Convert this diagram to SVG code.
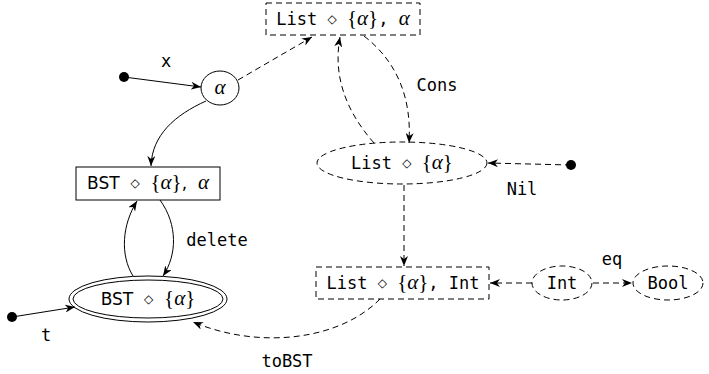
<svg xmlns="http://www.w3.org/2000/svg" width="709" height="374" viewBox="0 0 709 374">
  <style>
    .node { fill: none; stroke: #000; stroke-width: 1; }
    .dash { stroke-dasharray: 6 4; }
    .edge { fill: none; stroke: #000; stroke-width: 1; }
    .lbl { font-family: "DejaVu Sans Mono", monospace; font-size: 17px; fill: #000; }
    .mono { font-family: "DejaVu Sans Mono", monospace; }
    .sans { font-family: "DejaVu Sans", sans-serif; }
    .dia { font-family: "DejaVu Sans", sans-serif; font-size: 12px; }
    .math { font-family: "Liberation Serif", "DejaVu Serif", serif; font-size: 21px; }
    .it { font-style: italic; }
    text { font-size: 17px; fill: #000; white-space: pre; }
  </style>
  <defs>
    <marker id="arrow" viewBox="0 0 10 8" refX="10" refY="4" markerWidth="10" markerHeight="8" markerUnits="userSpaceOnUse" orient="auto">
      <path d="M0,0 L10,4 L0,8 L3,4 z" fill="#000"/>
    </marker>
  </defs>

  <g id="edges">
    <circle cx="124" cy="77" r="5" fill="#000"/>
    <line class="edge" x1="124" y1="77" x2="201" y2="87" marker-end="url(#arrow)"/>
    <line class="edge dash" x1="238" y1="80" x2="312" y2="37" marker-end="url(#arrow)"/>
    <path class="edge dash" d="M364,36 C395,60 412,95 409,143" marker-end="url(#arrow)"/>
    <path class="edge dash" d="M374,143 C345,110 333,75 340,37" marker-end="url(#arrow)"/>
    <circle cx="571" cy="165" r="5" fill="#000"/>
    <line class="edge dash" x1="571" y1="165" x2="488" y2="163" marker-end="url(#arrow)"/>
    <line class="edge dash" x1="404" y1="185" x2="404" y2="266" marker-end="url(#arrow)"/>
    <line class="edge dash" x1="532" y1="283" x2="490" y2="283" marker-end="url(#arrow)"/>
    <line class="edge dash" x1="593" y1="283" x2="632" y2="283" marker-end="url(#arrow)"/>
    <path class="edge dash" d="M380,299 C340,340 260,350 193,322" marker-end="url(#arrow)"/>
    <path class="edge" d="M206,101 C175,115 152,135 151,166" marker-end="url(#arrow)"/>
    <path class="edge" d="M133,276 C120,255 122,225 137,201" marker-end="url(#arrow)"/>
    <path class="edge" d="M160,200 C178,225 177,255 163,276" marker-end="url(#arrow)"/>
    <circle cx="12" cy="317" r="5" fill="#000"/>
    <line class="edge" x1="12" y1="317" x2="75" y2="307" marker-end="url(#arrow)"/>

    <text class="lbl" x="166" y="67" text-anchor="middle">x</text>
    <text class="lbl" x="437" y="91" text-anchor="middle">Cons</text>
    <text class="lbl" x="522" y="195" text-anchor="middle">Nil</text>
    <text class="lbl" x="612" y="265" text-anchor="middle">eq</text>
    <text class="lbl" x="217" y="246" text-anchor="middle">delete</text>
    <text class="lbl" x="46" y="341" text-anchor="middle">t</text>
    <text class="lbl" x="287" y="367" text-anchor="middle">toBST</text>
  </g>

  <g id="n-alpha">
    <ellipse class="node" cx="220" cy="88" rx="19" ry="17"/>
    <text x="220" y="94" text-anchor="middle" class="math it">α</text>
  </g>

  <g id="n-list-alpha-pair">
    <rect class="node dash" x="266" y="3" width="154" height="32"/>
    <text x="343" y="25" text-anchor="middle"><tspan class="mono">List </tspan><tspan class="dia" dy="-2">◇</tspan><tspan class="mono" dy="2"> </tspan><tspan class="math">{</tspan><tspan class="math it">α</tspan><tspan class="math">}</tspan><tspan class="mono">, </tspan><tspan class="math it">α</tspan></text>
  </g>

  <g id="n-list">
    <ellipse class="node dash" cx="402" cy="163" rx="85" ry="21"/>
    <text x="402" y="169" text-anchor="middle"><tspan class="mono">List </tspan><tspan class="dia" dy="-2">◇</tspan><tspan class="mono" dy="2"> </tspan><tspan class="math">{</tspan><tspan class="math it">α</tspan><tspan class="math">}</tspan></text>
  </g>

  <g id="n-list-int">
    <rect class="node dash" x="316" y="267" width="173" height="32"/>
    <text x="403" y="289" text-anchor="middle"><tspan class="mono">List </tspan><tspan class="dia" dy="-2">◇</tspan><tspan class="mono" dy="2"> </tspan><tspan class="math">{</tspan><tspan class="math it">α</tspan><tspan class="math">}</tspan><tspan class="mono">, Int</tspan></text>
  </g>

  <g id="n-int">
    <ellipse class="node dash" cx="562" cy="283" rx="30" ry="17"/>
    <text x="562" y="289" text-anchor="middle" class="mono">Int</text>
  </g>

  <g id="n-bool">
    <ellipse class="node dash" cx="668" cy="283" rx="35" ry="17"/>
    <text x="668" y="289" text-anchor="middle" class="mono">Bool</text>
  </g>

  <g id="n-bst-alpha-pair">
    <rect class="node" x="76" y="167" width="144" height="33"/>
    <text x="148" y="189" text-anchor="middle"><tspan class="sans">BST  </tspan><tspan class="dia" dy="-2">◇</tspan><tspan class="sans" dy="2">  </tspan><tspan class="math">{</tspan><tspan class="math it">α</tspan><tspan class="math">}</tspan><tspan class="sans">,  </tspan><tspan class="math it">α</tspan></text>
  </g>

  <g id="n-bst">
    <ellipse class="node" cx="148" cy="299" rx="79" ry="23"/>
    <ellipse class="node" cx="148" cy="299" rx="75" ry="19"/>
    <text x="148" y="305" text-anchor="middle"><tspan class="sans">BST  </tspan><tspan class="dia" dy="-2">◇</tspan><tspan class="sans" dy="2">  </tspan><tspan class="math">{</tspan><tspan class="math it">α</tspan><tspan class="math">}</tspan></text>
  </g>
</svg>
